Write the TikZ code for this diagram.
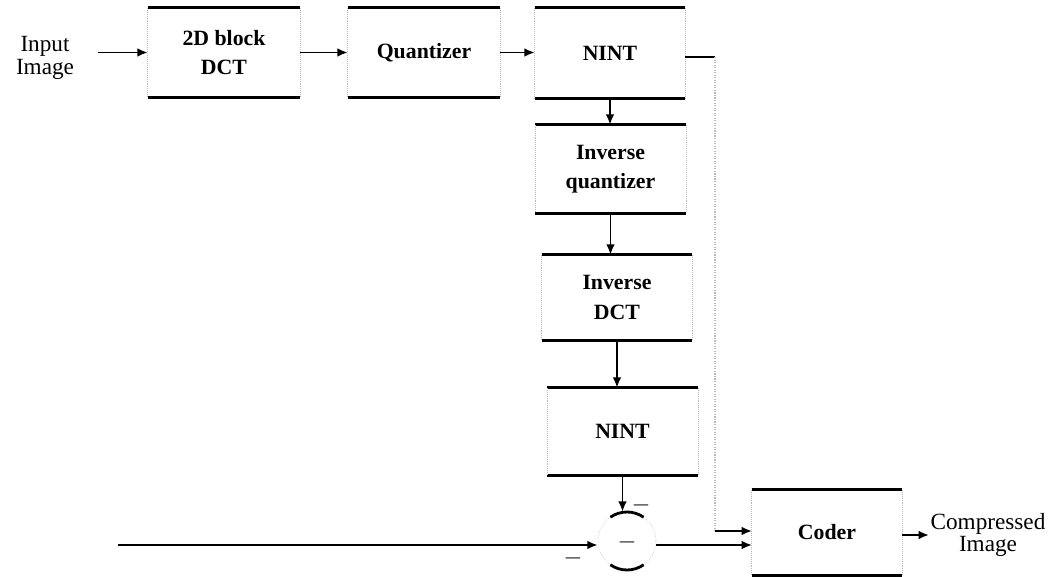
\documentclass[tikz,border=0pt]{standalone}
\usepackage{fontspec}
\setmainfont{Liberation Serif}
\usetikzlibrary{arrows.meta}

\begin{document}
\begin{tikzpicture}[x=0.025cm, y=-0.025cm]

  % ── Estilos ────────────────────────────────────────────────
  \tikzset{
    blok/.style = {minimum width=3.75cm, minimum height=2.2cm, align=center,
                   font=\fontsize{15.5}{21}\selectfont\bfseries},
    rand/.style = {line width=2pt},
    zijkant/.style = {draw=gray!55, densely dotted, thin},
    lijn/.style = {line width=1.4pt},
    pijl/.style = {line width=1.4pt, -{Latex[length=2.6mm, width=2.2mm]}},
    tekst/.style = {align=center, font=\fontsize{16.5}{16}\selectfont, inner sep=0pt}
  }

  \useasboundingbox (0,0) rectangle (1048,577);

  % =========================================================
  % 1. BLOCOS
  % =========================================================
  \node[blok, minimum width=3.8cm, minimum height=2.225cm] (dct)   at (224,52.5) {2D block\\DCT};
  \node[blok, minimum width=3.8cm, minimum height=2.225cm] (quant) at (424,52.5) {Quantizer};
  \node[blok, minimum height=2.25cm]  (nintA)  at (610,53)    {NINT};
  \node[blok]                         (invq)   at (610.5,169) {Inverse\\quantizer};
  \node[blok, minimum height=2.125cm] (invdct) at (617,297.5) {Inverse\\DCT};
  \node[blok, minimum height=2.175cm] (nintB)  at (622.5,431.5) {NINT};
  \node[blok, minimum height=2.125cm] (coder)  at (827,532.5) {Coder};

  % Somador
  \node[circle, minimum size=1.45cm, inner sep=0pt] (soma) at (627,541) {};
  \draw[zijkant] (soma) circle (29);
  \draw[rand] ([shift={(235:29)}]soma.center) arc[start angle=235, end angle=305, radius=29];
  \draw[rand] ([shift={(55:29)}]soma.center) arc[start angle=55, end angle=125, radius=29];

  % Bordas: topo e base grossos, laterais pontilhadas
  \foreach \b in {dct,quant,nintA,invq,invdct,nintB,coder} {
    \draw[rand] (\b.north west) -- (\b.north east);
    \draw[rand] (\b.south west) -- (\b.south east);
    \draw[zijkant] (\b.north west) -- (\b.south west);
    \draw[zijkant] (\b.north east) -- (\b.south east);
  }

  % Rótulos externos
  \node[tekst] (entrada) at (45,58)  {Input\\Image};
  \node[tekst] (saida)   at (988,535) {Compressed\\Image};

  % Sinais do somador
  \node[tekst] (sinalA) at (641,505) {$-$};
  \node[tekst] (sinalB) at (573,558) {$-$};
  \node[tekst] (sinalC) at (627,542) {$-$};

  % Pontos auxiliares
  \coordinate (tapA) at (715,57);
  \coordinate (tapB) at (715,531);
  \coordinate (cinA) at (752,531);
  \coordinate (cinB) at (752,545);
  \coordinate (orig) at (118,545);

  % =========================================================
  % 2. LIGAÇÕES
  % =========================================================
  \draw[pijl, shorten <=0.6cm] (entrada.east |- dct.west) -- (dct.west);
  \draw[pijl] (dct.east) -- (quant.west);
  \draw[pijl] (quant.east) -- (quant.east -| nintA.west);

  % Cadeia vertical
  \draw[pijl] (nintA.south) -- (nintA.south |- invq.north);
  \draw[pijl] (invq.south)  -- (invq.south |- invdct.north);
  \draw[pijl] (invdct.south) -- (invdct.south |- nintB.north);
  \draw[pijl] (nintB.south) -- (nintB.south |- soma.north);

  % Derivação da saída do NINT para o codificador
  \draw[lijn] (nintA.east |- tapA) -- (tapA);
  \draw[zijkant, thick] (tapA) -- (tapB);
  \draw[pijl] (tapB) -- (cinA);

  % Linha inferior e saída do somador
  \draw[pijl] (orig) -- (soma.west |- orig);
  \draw[pijl] (soma.east |- orig) -- (cinB);

  % Saída
  \draw[pijl, shorten >=1pt] (coder.east |- saida) -- (saida.west);

\end{tikzpicture}
\end{document}
